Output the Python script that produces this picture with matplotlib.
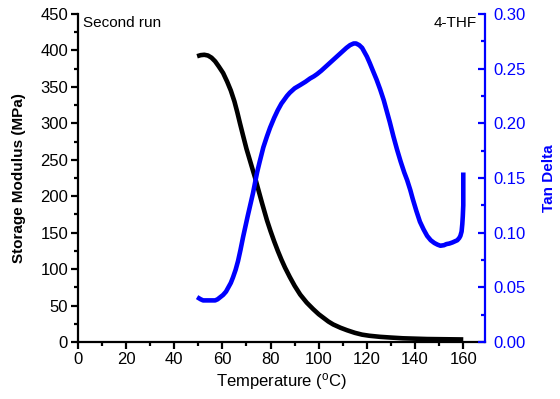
import matplotlib
matplotlib.use("Agg")
import matplotlib.pyplot as plt
import numpy as np
from matplotlib.ticker import MultipleLocator

plt.rcParams["font.family"] = ["Liberation Sans", "DejaVu Sans"]
plt.rcParams["mathtext.default"] = "regular"

# storage modulus (MPa) vs temperature
temp_e = [49.5, 51, 52.5, 54, 55.5, 57, 58.5, 60.3, 62, 63.5, 65, 66.2, 67.3, 68.6, 70, 71.8, 73.6, 75, 76.5, 78.5, 80, 81.5, 83, 84.5, 86, 88, 90, 92.3, 95, 97.7, 100, 102, 104, 106, 109, 111.8, 115, 118, 121, 125.5, 130, 135, 140, 145, 150, 155, 160]
modulus = [392, 393.5, 394, 393, 390, 385, 378, 369, 357, 345, 330, 315, 300, 283, 265, 245, 225, 208, 190, 167, 152, 138, 125, 113, 102, 89, 77, 65, 54, 45, 38, 33, 28, 24, 19.5, 16, 12.5, 10, 8.5, 7, 6, 5, 4.5, 4, 3.8, 3.6, 3.4]

# tan delta vs temperature
temp_t = [49.5, 51, 52, 54, 55, 57, 58, 60.3, 61.5, 62.5, 63.5, 64.4, 65.5, 66.5, 67.5, 68.6, 70.5, 72.7, 74.4, 75.5, 77, 78.5, 79.8, 81.5, 83, 84.5, 85.5, 86.8, 88, 90, 92.3, 94.5, 96.4, 98, 99.3, 101, 103, 104.5, 106, 108, 110, 111.5, 113, 114.5, 115.5, 116.8, 118, 119, 120, 121.2, 122.5, 124, 125.5, 127, 128, 129.5, 131, 132.5, 134, 135.5, 136.7, 138, 139, 140.5, 142, 143.5, 145, 146.5, 148, 149.3, 150.5, 152, 153, 154.2, 155.5, 156.5, 157.5, 158.3, 158.8, 159.3, 159.6, 159.8, 160, 160, 160]
tan_d = [0.041, 0.039, 0.038, 0.038, 0.038, 0.038, 0.039, 0.043, 0.046, 0.050, 0.054, 0.059, 0.066, 0.074, 0.084, 0.096, 0.115, 0.136, 0.155, 0.165, 0.178, 0.188, 0.196, 0.205, 0.212, 0.218, 0.221, 0.225, 0.228, 0.232, 0.235, 0.238, 0.241, 0.243, 0.245, 0.248, 0.252, 0.255, 0.258, 0.262, 0.266, 0.269, 0.2715, 0.273, 0.273, 0.2715, 0.269, 0.265, 0.261, 0.255, 0.248, 0.240, 0.231, 0.221, 0.213, 0.201, 0.188, 0.176, 0.165, 0.155, 0.148, 0.139, 0.131, 0.120, 0.110, 0.103, 0.097, 0.093, 0.0905, 0.089, 0.088, 0.0885, 0.0895, 0.090, 0.091, 0.092, 0.093, 0.095, 0.097, 0.101, 0.108, 0.115, 0.125, 0.140, 0.155]

fig = plt.figure(figsize=(5.6, 3.99), dpi=100)
ax = fig.add_axes([0.139, 0.143, 0.727, 0.822])
ax2 = ax.twinx()

ax.plot(temp_e, modulus, color="black", lw=3.3, solid_capstyle="butt", solid_joinstyle="round")
ax2.plot(temp_t, tan_d, color="#0000ff", lw=3.3, solid_capstyle="butt", solid_joinstyle="round")

ax.set_xlim(0, 169)
ax.set_ylim(0, 450)
ax2.set_ylim(0, 0.30)

for a in (ax, ax2):
    a.spines["top"].set_visible(False)
    a.spines["left"].set_linewidth(1.6)
    a.spines["bottom"].set_linewidth(1.6)
    a.spines["right"].set_linewidth(1.6)
ax2.spines["right"].set_color("#0000ff")
ax2.spines["left"].set_visible(False)
ax2.spines["bottom"].set_visible(False)
ax.spines["right"].set_visible(False)

ax.xaxis.set_major_locator(MultipleLocator(20))
ax.xaxis.set_minor_locator(MultipleLocator(10))
ax.yaxis.set_major_locator(MultipleLocator(50))
ax.yaxis.set_minor_locator(MultipleLocator(25))
ax2.yaxis.set_major_locator(MultipleLocator(0.05))
ax2.yaxis.set_minor_locator(MultipleLocator(0.025))
ax2.yaxis.set_major_formatter(plt.FuncFormatter(lambda v, p: f"{v:.2f}"))

ax.tick_params(axis="both", which="major", direction="out", length=5, width=1.6, labelsize=12, pad=2)
ax.tick_params(axis="both", which="minor", direction="out", length=3, width=1.6)
ax2.tick_params(axis="y", which="major", direction="in", length=5, width=1.6, colors="#0000ff", labelsize=12, pad=6)
ax2.tick_params(axis="y", which="minor", direction="in", length=3, width=1.6, colors="#0000ff")

ax.set_xlabel("Temperature ($^{o}$C)", fontsize=12, labelpad=3)
ax.set_ylabel("Storage Modulus (MPa)", fontsize=11, fontweight="bold", labelpad=10)
ax2.set_ylabel("Tan Delta", fontsize=11, fontweight="bold", color="#0000ff", labelpad=12)

ax.text(0.012, 0.993, "Second run", transform=ax.transAxes, ha="left", va="top", fontsize=11)
ax.text(0.98, 0.993, "4-THF", transform=ax.transAxes, ha="right", va="top", fontsize=11)

fig.savefig("out.png", dpi=100)
